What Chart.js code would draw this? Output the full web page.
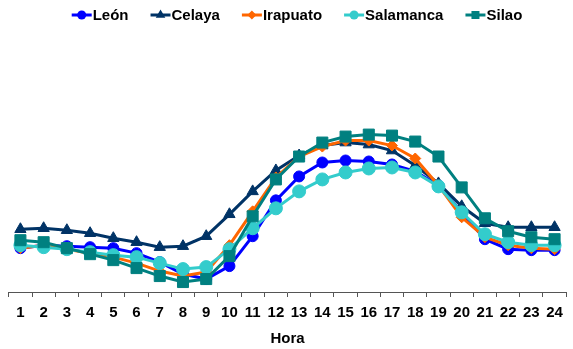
<!DOCTYPE html>
<html>
<head>
<meta charset="utf-8">
<script src="https://cdn.jsdelivr.net/npm/chart.js@4/dist/chart.umd.min.js"></script>
<style>
  html, body { margin: 0; padding: 0; background: #fff; overflow: hidden; }
  #wrap { width: 575px; height: 349px; }
</style>
</head>
<body>
<div id="wrap"><canvas id="c" width="575" height="349"></canvas></div>
<script>
// Categories (hours)
const hours = ['1','2','3','4','5','6','7','8','9','10','11','12','13','14','15','16','17','18','19','20','21','22','23','24'];
const seriesNames = ['León', 'Celaya', 'Irapuato', 'Salamanca', 'Silao'];

// Values (relative units, y axis not labelled)
const leon      = [43,46,45,44,43,38,29,17,12,25,55,91,115,129,131,130,127,120,106,79,52,42,41,41];
const celaya    = [62,63,61,58,53,49,44,45,55,77,100,121,136,146,149,147,141,126,108,85,68,64,64,64];
const irapuato  = [43,46,42,38,34,28,20,15,19,46,80,114,135,145,151,151,146,133,106,74,54,46,43,42];
const salamanca = [46,44,42,39,36,34,28,22,24,42,63,83,100,112,119,123,124,119,105,79,57,49,46,46];
const silao     = [51,49,43,37,31,23,15,9,12,35,75,112,135,149,155,157,156,150,135,104,73,60,54,52];

const colors = ['#0000FF', '#003366', '#FF6600', '#33CCCC', '#008080'];
const styles = ['circle', 'triangle', 'rectRot', 'circle', 'rect'];
const radii  = [5.5, 6.5, 5.5, 6.5, 7.8];
const values = [leon, celaya, irapuato, salamanca, silao];

const datasets = seriesNames.map((name, i) => ({
  label: name,
  data: values[i],
  borderColor: colors[i],
  backgroundColor: colors[i],
  pointBackgroundColor: colors[i],
  pointBorderColor: colors[i],
  pointStyle: styles[i],
  pointRadius: radii[i],
  pointBorderWidth: 1,
  borderWidth: 3,
  tension: 0,
  order: 5 - i
}));

function drawMarker(ctx, style, x, y, r) {
  ctx.beginPath();
  if (style === 'circle') {
    ctx.arc(x, y, r, 0, Math.PI * 2);
  } else if (style === 'triangle') {
    ctx.moveTo(x, y - r);
    ctx.lineTo(x + r * 0.866, y + r * 0.5);
    ctx.lineTo(x - r * 0.866, y + r * 0.5);
    ctx.closePath();
  } else if (style === 'rectRot') {
    ctx.moveTo(x, y - r); ctx.lineTo(x + r, y); ctx.lineTo(x, y + r); ctx.lineTo(x - r, y); ctx.closePath();
  } else {
    ctx.rect(x - r, y - r, 2 * r, 2 * r);
  }
  ctx.fill();
}

const customLegend = {
  id: 'customLegend',
  afterDraw(chart) {
    const ctx = chart.ctx;
    ctx.save();
    ctx.font = 'bold 15px "Liberation Sans", Arial, sans-serif';
    ctx.textBaseline = 'middle';
    ctx.textAlign = 'left';
    const lineW = 20, gapText = 1, gapItem = 22, y = 15;
    const widths = seriesNames.map(n => ctx.measureText(n).width);
    let total = 0;
    widths.forEach((w, i) => { total += lineW + gapText + w + (i < widths.length - 1 ? gapItem : 0); });
    let x = 297 - total / 2;
    const legendR = [4.5, 5.5, 4.5, 4.5, 4];
    seriesNames.forEach((n, i) => {
      ctx.strokeStyle = colors[i];
      ctx.fillStyle = colors[i];
      ctx.lineWidth = 3;
      ctx.beginPath();
      ctx.moveTo(x, y); ctx.lineTo(x + lineW, y); ctx.stroke();
      drawMarker(ctx, styles[i], x + lineW / 2, y, legendR[i]);
      ctx.fillStyle = '#000';
      ctx.fillText(n, x + lineW + gapText, y + 0.5);
      x += lineW + gapText + widths[i] + gapItem;
    });
    ctx.restore();
  }
};

new Chart(document.getElementById('c'), {
  type: 'line',
  data: { labels: hours, datasets: datasets },
  plugins: [customLegend],
  options: {
    responsive: false,
    animation: false,
    devicePixelRatio: 1,
    layout: { padding: { top: 30, left: 7, right: 0, bottom: 0 } },
    plugins: { legend: { display: false }, tooltip: { enabled: false } },
    scales: {
      x: {
        offset: true,
        grid: { display: true, offset: true, drawOnChartArea: false, drawTicks: true, tickLength: 5, color: '#555' },
        border: { display: true, color: '#555', width: 1 },
        ticks: { color: '#000', padding: 7, font: { family: '"Liberation Sans", Arial, sans-serif', size: 15, weight: 'bold' }, maxRotation: 0, autoSkip: false },
        title: { display: true, text: 'Hora', color: '#000', padding: { top: 1, bottom: 1 }, font: { family: '"Liberation Sans", Arial, sans-serif', size: 15, weight: 'bold' } }
      },
      y: { display: false, min: -1, max: 262 }
    }
  }
});
</script>
</body>
</html>
